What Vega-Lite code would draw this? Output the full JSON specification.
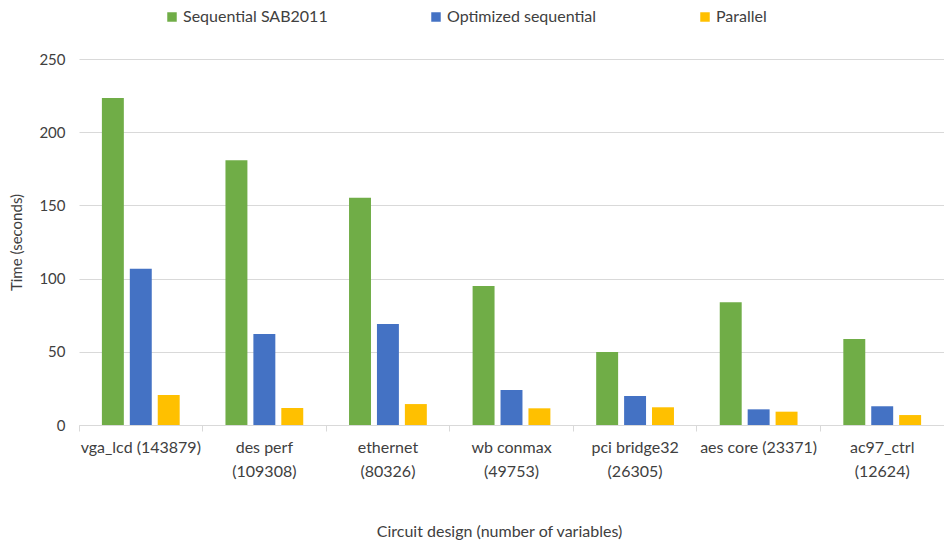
{
  "$schema": "https://vega.github.io/schema/vega-lite/v6.json",
  "width": 865,
  "height": 366,
  "autosize": "none",
  "padding": {"left": 79, "top": 59, "right": 0, "bottom": 117},
  "background": "white",
  "data": {
    "values": [
      {"design": "vga_lcd (143879)", "series": "Sequential SAB2011", "time": 223.3},
      {"design": "vga_lcd (143879)", "series": "Optimized sequential", "time": 106.7},
      {"design": "vga_lcd (143879)", "series": "Parallel", "time": 20.5},
      {"design": "des perf|(109308)", "series": "Sequential SAB2011", "time": 180.8},
      {"design": "des perf|(109308)", "series": "Optimized sequential", "time": 62.2},
      {"design": "des perf|(109308)", "series": "Parallel", "time": 11.6},
      {"design": "ethernet|(80326)", "series": "Sequential SAB2011", "time": 155.2},
      {"design": "ethernet|(80326)", "series": "Optimized sequential", "time": 69.0},
      {"design": "ethernet|(80326)", "series": "Parallel", "time": 14.3},
      {"design": "wb conmax|(49753)", "series": "Sequential SAB2011", "time": 95.0},
      {"design": "wb conmax|(49753)", "series": "Optimized sequential", "time": 23.9},
      {"design": "wb conmax|(49753)", "series": "Parallel", "time": 11.4},
      {"design": "pci bridge32|(26305)", "series": "Sequential SAB2011", "time": 49.9},
      {"design": "pci bridge32|(26305)", "series": "Optimized sequential", "time": 19.8},
      {"design": "pci bridge32|(26305)", "series": "Parallel", "time": 12.1},
      {"design": "aes core  (23371)", "series": "Sequential SAB2011", "time": 83.8},
      {"design": "aes core  (23371)", "series": "Optimized sequential", "time": 10.7},
      {"design": "aes core  (23371)", "series": "Parallel", "time": 9.1},
      {"design": "ac97_ctrl|(12624)", "series": "Sequential SAB2011", "time": 58.7},
      {"design": "ac97_ctrl|(12624)", "series": "Optimized sequential", "time": 12.8},
      {"design": "ac97_ctrl|(12624)", "series": "Parallel", "time": 6.8}
    ]
  },
  "mark": {"type": "bar"},
  "encoding": {
    "x": {
      "field": "design",
      "type": "nominal",
      "sort": null,
      "scale": {"paddingInner": 0, "paddingOuter": 0},
      "axis": {
        "title": "Circuit design (number of variables)",
        "titleFontSize": 16,
        "titleFontWeight": "normal",
        "titleColor": "#404040",
        "titlePadding": 44,
        "titleX": 420,
        "titleAlign": "center",
        "titleAnchor": "start",
        "labelAngle": 0,
        "labelExpr": "split(datum.label, '|')",
        "labelFontSize": 16,
        "labelColor": "#404040",
        "labelLineHeight": 24,
        "labelPadding": 8,
        "labelOverlap": false,
        "labelLimit": 0,
        "bandPosition": 0,
        "domainColor": "#d9d9d9",
        "tickColor": "#d9d9d9",
        "tickSize": 6,
        "grid": false
      }
    },
    "xOffset": {
      "field": "series",
      "type": "nominal",
      "sort": ["Sequential SAB2011", "Optimized sequential", "Parallel"],
      "scale": {"paddingInner": 0.214, "paddingOuter": 0.82}
    },
    "y": {
      "field": "time",
      "type": "quantitative",
      "scale": {"domain": [0, 250], "nice": false},
      "axis": {
        "title": "Time (seconds)",
        "titleFontSize": 15,
        "titleFontWeight": "normal",
        "titleColor": "#404040",
        "titlePadding": 14,
        "values": [0, 50, 100, 150, 200, 250],
        "labelFontSize": 15,
        "labelColor": "#404040",
        "labelPadding": 14,
        "ticks": false,
        "domain": false,
        "gridColor": "#d9d9d9"
      }
    },
    "color": {
      "field": "series",
      "type": "nominal",
      "scale": {
        "domain": ["Sequential SAB2011", "Optimized sequential", "Parallel"],
        "range": ["#70AD47", "#4472C4", "#FFC000"]
      },
      "legend": {
        "title": null,
        "orient": "none",
        "direction": "horizontal",
        "legendX": 85,
        "legendY": -50,
        "symbolType": "square",
        "symbolSize": 90,
        "symbolStrokeWidth": 0,
        "labelFontSize": 16,
        "labelColor": "#404040",
        "labelOffset": 3,
        "columnPadding": 100
      }
    }
  },
  "config": {
    "font": "Lato",
    "view": {"stroke": null}
  }
}
